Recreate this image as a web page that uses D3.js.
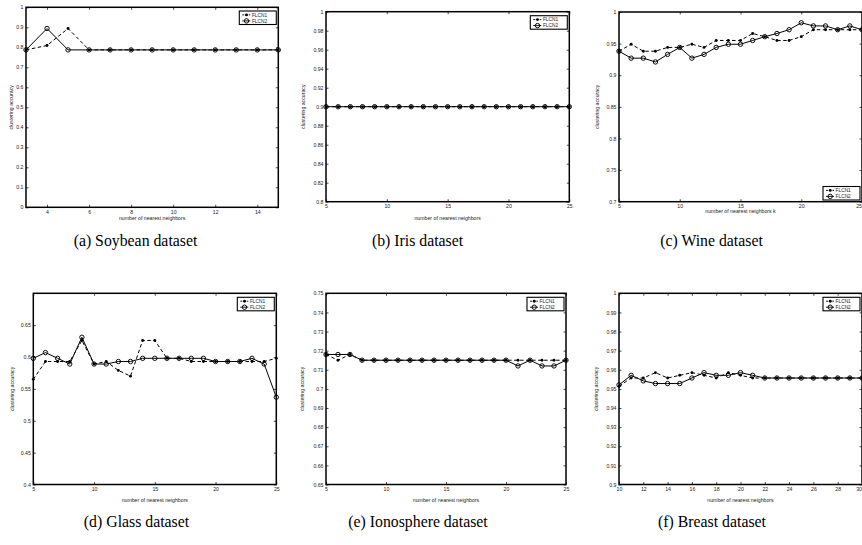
<!DOCTYPE html>
<html><head><meta charset="utf-8">
<script src="https://cdn.jsdelivr.net/npm/d3@7"></script>
<style>body{margin:0;background:#fff;overflow:hidden}</style>
</head><body>
<svg id="chart" width="862" height="545"></svg>
<script>
// ---------- data ----------
const soybeanK = [3,4,5,6,7,8,9,10,11,12,13,14,15];
const soybeanFLCN1 = [0.787,0.809,0.894,0.787,0.787,0.787,0.787,0.787,0.787,0.787,0.787,0.787,0.787];
const soybeanFLCN2 = [0.787,0.894,0.787,0.787,0.787,0.787,0.787,0.787,0.787,0.787,0.787,0.787,0.787];
const soybeanXTicks = [4,6,8,10,12,14];
const soybeanYTicks = [0,0.1,0.2,0.3,0.4,0.5,0.6,0.7,0.8,0.9,1];

const irisK = [5,6,7,8,9,10,11,12,13,14,15,16,17,18,19,20,21,22,23,24,25];
const irisFLCN1 = [0.9,0.9,0.9,0.9,0.9,0.9,0.9,0.9,0.9,0.9,0.9,0.9,0.9,0.9,0.9,0.9,0.9,0.9,0.9,0.9,0.9];
const irisFLCN2 = [0.9,0.9,0.9,0.9,0.9,0.9,0.9,0.9,0.9,0.9,0.9,0.9,0.9,0.9,0.9,0.9,0.9,0.9,0.9,0.9,0.9];
const irisXTicks = [5,10,15,20,25];
const irisYTicks = [0.8,0.82,0.84,0.86,0.88,0.9,0.92,0.94,0.96,0.98,1];

const wineK = [5,6,7,8,9,10,11,12,13,14,15,16,17,18,19,20,21,22,23,24,25];
const wineFLCN1 = [0.938,0.949,0.938,0.938,0.944,0.944,0.949,0.944,0.955,0.955,0.955,0.966,0.961,0.955,0.955,0.961,0.972,0.972,0.972,0.972,0.972];
const wineFLCN2 = [0.938,0.927,0.927,0.921,0.933,0.944,0.927,0.933,0.944,0.949,0.949,0.955,0.961,0.966,0.972,0.983,0.978,0.978,0.972,0.978,0.972];
const wineXTicks = [5,10,15,20,25];
const wineYTicks = [0.7,0.75,0.8,0.85,0.9,0.95,1];

const glassK = [5,6,7,8,9,10,11,12,13,14,15,16,17,18,19,20,21,22,23,24,25];
const glassFLCN1 = [0.565,0.593,0.593,0.593,0.626,0.589,0.593,0.579,0.570,0.626,0.626,0.598,0.598,0.593,0.593,0.593,0.593,0.593,0.593,0.593,0.598];
const glassFLCN2 = [0.598,0.607,0.598,0.589,0.631,0.589,0.589,0.593,0.593,0.598,0.598,0.598,0.598,0.598,0.598,0.593,0.593,0.593,0.598,0.589,0.537];
const glassXTicks = [5,10,15,20,25];
const glassYTicks = [0.4,0.45,0.5,0.55,0.6,0.65];

const ionoK = [5,6,7,8,9,10,11,12,13,14,15,16,17,18,19,20,21,22,23,24,25];
const ionoFLCN1 = [0.718,0.715,0.718,0.715,0.715,0.715,0.715,0.715,0.715,0.715,0.715,0.715,0.715,0.715,0.715,0.715,0.715,0.715,0.715,0.715,0.715];
const ionoFLCN2 = [0.718,0.718,0.718,0.715,0.715,0.715,0.715,0.715,0.715,0.715,0.715,0.715,0.715,0.715,0.715,0.715,0.712,0.715,0.712,0.712,0.715];
const ionoXTicks = [5,10,15,20,25];
const ionoYTicks = [0.65,0.66,0.67,0.68,0.69,0.7,0.71,0.72,0.73,0.74,0.75];

const breastK = [10,11,12,13,14,15,16,17,18,19,20,21,22,23,24,25,26,27,28,29,30];
const breastFLCN1 = [0.9514,0.9557,0.9557,0.9585,0.9557,0.9571,0.9585,0.9571,0.9557,0.9585,0.9571,0.9557,0.9557,0.9557,0.9557,0.9557,0.9557,0.9557,0.9557,0.9557,0.9557];
const breastFLCN2 = [0.9521,0.9571,0.9542,0.9528,0.9528,0.9528,0.9557,0.9585,0.9571,0.9571,0.9585,0.9571,0.9557,0.9557,0.9557,0.9557,0.9557,0.9557,0.9557,0.9557,0.9557];
const breastXTicks = [10,12,14,16,18,20,22,24,26,28,30];
const breastYTicks = [0.9,0.91,0.92,0.93,0.94,0.95,0.96,0.97,0.98,0.99,1];

const seriesNames = ["FLCN1","FLCN2"];

// ---------- layout ----------
const panels = [
  {k:soybeanK, s:[soybeanFLCN1,soybeanFLCN2], xDom:[3,15], yDom:[0,1], xT:soybeanXTicks, yT:soybeanYTicks,
   f:[26,7.3,278.3,207.3], xlab:"number of nearest neighbors", xlabDy:11, legend:"tr", legTop:3.7,
   cap:"(a) Soybean dataset", capX:135.5, capY:240, ylabX:11},
  {k:irisK, s:[irisFLCN1,irisFLCN2], xDom:[5,25], yDom:[0.8,1], xT:irisXTicks, yT:irisYTicks,
   f:[326,11.7,569.3,201.7], xlab:"number of nearest neighbors", xlabDy:16.6, legend:"tr", legTop:4,
   cap:"(b) Iris dataset", capX:417.5, capY:240, ylabX:303},
  {k:wineK, s:[wineFLCN1,wineFLCN2], xDom:[5,25], yDom:[0.7,1], xT:wineXTicks, yT:wineYTicks,
   f:[619,12,862,201.7], xlab:"number of nearest neighbors k", xlabDy:9.3, legend:"br", legTop:1.7,
   cap:"(c) Wine dataset", capX:711.5, capY:240, ylabX:597},
  {k:glassK, s:[glassFLCN1,glassFLCN2], xDom:[5,25], yDom:[0.4,0.7], xT:glassXTicks, yT:glassYTicks,
   f:[33.3,293.3,276.3,484.5], xlab:"number of nearest neighbors", xlabDy:16, legend:"tr", legTop:4,
   cap:"(d) Glass dataset", capX:136.5, capY:521, ylabX:11.7},
  {k:ionoK, s:[ionoFLCN1,ionoFLCN2], xDom:[5,25], yDom:[0.65,0.75], xT:ionoXTicks, yT:ionoYTicks,
   f:[326,293.3,566,484.5], xlab:"number of nearest neighbors", xlabDy:16, legend:"tr", legTop:4,
   cap:"(e) Ionosphere dataset", capX:418, capY:521, ylabX:302},
  {k:breastK, s:[breastFLCN1,breastFLCN2], xDom:[10,30], yDom:[0.9,1], xT:breastXTicks, yT:breastYTicks,
   f:[619,293.3,862,484.5], xlab:"number of nearest neighbors", xlabDy:16, legend:"tr", legTop:4,
   cap:"(f) Breast dataset", capX:712, capY:521, ylabX:596}
];

const W = 862;
const svg = d3.select("#chart");
const SANS = "'Liberation Sans', Arial, sans-serif";
const SERIF = "'Liberation Serif', 'DejaVu Serif', serif";
const TICK = 2.5;
const fmt = v => String(+v.toFixed(4));

function marker(g, type, cx, cy) {
  if (type === 0) {
    g.append("circle").attr("cx",cx).attr("cy",cy).attr("r",1.45).attr("fill","#000");
  } else {
    g.append("circle").attr("cx",cx).attr("cy",cy).attr("r",2.2)
      .attr("fill","none").attr("stroke","#000").attr("stroke-width",0.95);
  }
}

panels.forEach(p => {
  const [x0,y0,x1,y1] = p.f;
  const x = d3.scaleLinear().domain(p.xDom).range([x0,x1]);
  const y = d3.scaleLinear().domain(p.yDom).range([y1,y0]);
  const g = svg.append("g");

  // axes (ticks pointing inward)
  const ax = (axis, tx, ty, labels) => {
    const a = g.append("g").attr("transform",`translate(${tx},${ty})`).call(axis);
    a.select(".domain").remove();
    a.selectAll(".tick line").attr("stroke","#000").attr("stroke-width",0.7);
    a.selectAll("text").attr("font-family",SANS).attr("font-size",5.2).attr("fill","#222");
    if (!labels) a.selectAll("text").remove();
    return a;
  };
  const bottom = ax(d3.axisBottom(x).tickValues(p.xT).tickSize(-TICK).tickPadding(3).tickFormat(fmt), 0, y1, true);
  // keep a label that sits on the page edge fully visible
  bottom.selectAll(".tick").each(function(d) {
    if (x(d) > W - 4) d3.select(this).select("text").attr("text-anchor","end").attr("dx", W - 0.5 - x(d));
  });
  ax(d3.axisTop(x).tickValues(p.xT).tickSize(-TICK), 0, y0, false);
  ax(d3.axisLeft(y).tickValues(p.yT).tickSize(-TICK).tickPadding(2.5).tickFormat(fmt), x0, 0, true);
  ax(d3.axisRight(y).tickValues(p.yT).tickSize(-TICK), x1, 0, false);

  // frame
  g.append("rect").attr("x",x0).attr("y",y0).attr("width",x1-x0).attr("height",y1-y0)
    .attr("fill","none").attr("stroke","#000").attr("stroke-width",1.5);

  // series
  const line = d3.line().x(d => x(d[0])).y(d => y(d[1]));
  p.s.forEach((vals, si) => {
    const pts = p.k.map((kk,i) => [kk, vals[i]]);
    g.append("path").datum(pts).attr("d",line).attr("fill","none").attr("stroke","#000")
      .attr("stroke-width",1).attr("stroke-dasharray", si === 0 ? "3.5,2.5" : null);
  });
  p.s.forEach((vals, si) => {
    p.k.forEach((kk,i) => marker(g, si, x(kk), y(vals[i])));
  });

  // legend
  const lw = 37, lh = 13.5;
  const lx = x1 - 2 - lw;
  const ly = p.legend === "tr" ? y0 + p.legTop : y1 - p.legTop - lh;
  const lg = g.append("g").attr("transform",`translate(${lx},${ly})`);
  lg.append("rect").attr("width",lw).attr("height",lh).attr("fill","#fff")
    .attr("stroke","#000").attr("stroke-width",1.1);
  seriesNames.forEach((n, si) => {
    const ry = 3.9 + si*6;
    lg.append("line").attr("x1",3).attr("x2",11).attr("y1",ry).attr("y2",ry)
      .attr("stroke","#000").attr("stroke-width",0.9)
      .attr("stroke-dasharray", si === 0 ? "2,1.2" : null);
    marker(lg, si, 7.2, ry);
    lg.append("text").attr("x",12.6).attr("y",ry).attr("dy","0.35em")
      .attr("font-family",SANS).attr("font-size",4.8).attr("fill","#222").text(n);
  });

  // axis labels
  g.append("text").attr("x",(x0+x1)/2).attr("y",y1 + p.xlabDy).attr("dy","0.35em")
    .attr("text-anchor","middle").attr("font-family",SANS).attr("font-size",5.2).attr("fill","#222")
    .text(p.xlab);
  g.append("text").attr("transform",`translate(${p.ylabX},${(y0+y1)/2}) rotate(-90)`)
    .attr("dy","0.35em").attr("text-anchor","middle").attr("font-family",SANS)
    .attr("font-size",5.2).attr("fill","#222").text("clustering accuracy");

  // caption
  svg.append("text").attr("x",p.capX).attr("y",p.capY).attr("dy","0.35em")
    .attr("text-anchor","middle").attr("font-family",SERIF).attr("font-size",15.8)
    .attr("fill","#000").text(p.cap);
});
</script>
</body></html>
